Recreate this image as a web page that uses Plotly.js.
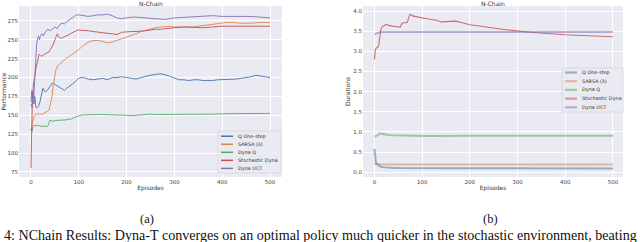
<!DOCTYPE html>
<html>
<head>
<meta charset="utf-8">
<script src="https://cdn.plot.ly/plotly-3.0.1.min.js"></script>
<style>
html,body{margin:0;padding:0;background:#fff;}
#chart{width:640px;height:242px;}
</style>
</head>
<body>
<div id="chart"></div>
<script>
// ---------- DATA ----------
var seriesNames = ["Q One-step", "SARSA (λ)", "Dyna Q", "Stochastic Dyna", "Dyna UCT"];
var legendNamesB = ["Q One-step", "SARSA (λ)", "Dyna Q", "Stochastic Dyna", "Dyna UCT"];

// (a) Performance
var perfQX = [0,2,4,6,8,10,13,16,19,22,25,28,31,35,40,45,50,55,60,65,70,75,80,85,90,95,100,105,110,120,130,140,150,160,170,180,190,200,210,220,230,240,250,260,270,280,290,300,310,320,330,340,350,360,370,380,390,400,410,420,430,440,450,460,470,480,490,500];
var perfQY = [168,183,172,165,175,161,160,162,168,178,186,182,181,184,188,193,191,189,187,184,183,186,188,190,193,196,199,200,200,198,197,198,199,197,200,200,201,200,199,198,200,202,203,204,205,204,202,199,197,197,196,197,197,196,196,196,197,197,198,198,198,199,200,201,203,202,201,200];

var perfSarsaX = [0,2,5,8,11,14,18,22,26,30,34,38,41,44,46,48,50,52,55,60,65,70,75,80,85,90,95,100,105,110,115,120,130,140,150,160,170,180,190,200,210,220,230,240,250,260,270,280,290,300,310,320,340,350,360,370,380,390,400,410,420,440,460,480,500];
var perfSarsaY = [130,138,145,150,152,151,152,151,152,153,155,157,165,175,187,197,205,210,215,218,221,223,226,228,230,232,234,237,240,242,245,247,249,249,248,246,247,249,251,253,255,258,261,263,264,266,267,268,268,267,267,267,267,268,269,270,271,272,272,273,273,272,272,273,273];

var perfDynaQX = [0,2,4,7,10,14,18,22,26,30,34,37,39,42,46,50,55,60,65,70,75,80,85,90,95,100,105,110,120,130,140,150,160,170,180,190,200,210,220,230,240,250,260,280,300,320,340,360,380,400,420,440,460,480,500];
var perfDynaQY = [132,128,134,137,136,137,136,135,136,135,135,138,143,143,142,143,143,144,144,144,144,145,145,147,148,150,150,150.5,151,151,151,151,151,151,151,150,150,149.5,150,151,151,151.5,151,151,151,151,151,151,151.5,152,152,152,152,152.5,152.5];

var perfStochX = [0,1,2,3,5,7,9,11,13,15,17,20,23,26,30,34,38,42,46,50,53,55,58,62,66,70,75,80,85,90,95,100,110,120,130,140,150,160,170,180,190,200,210,220,230,240,250,260,270,280,290,300,320,340,360,380,400,420,440,460,480,500];
var perfStochY = [80,115,150,172,190,200,208,214,219,228,231,229,228,230,232,233,234,238,243,250,256,258,254,252,253,254,256,257,259,261,262,263,263,262,261,260,259,258,257,257,260,261,261,261,262,262,263,264,264,265,266,266,267,266,266,267,268,268,268,268,268,268];

var perfUctX = [0,2,4,6,8,10,12,14,16,18,20,23,26,30,35,40,45,50,55,60,65,70,75,80,85,90,95,100,110,120,130,140,150,160,170,180,190,200,210,220,240,260,280,300,320,340,360,380,400,420,440,460,480,500];
var perfUctY = [165,160,182,172,200,230,245,252,255,250,256,258,255,260,264,262,265,267,265,270,272,271,274,276,278,281,283,283,282,281,282,283,283,284,282,279,278,279,280,280,279,278,277,279,280,281,282,282,281,281,281,281,280,279];

// (b) Durations
var durQX = [0,1,2,3,5,8,12,18,25,35,50,75,100,150,200,300,400,500];
var durQY = [0.58,0.40,0.30,0.24,0.20,0.17,0.14,0.125,0.115,0.11,0.105,0.10,0.10,0.098,0.097,0.095,0.095,0.094];

var durSarsaX = [0,3,10,50,100,200,300,400,500];
var durSarsaY = [0.21,0.20,0.195,0.19,0.19,0.19,0.19,0.19,0.19];

var durDynaQX = [0,3,6,9,12,15,20,30,40,50,70,90,110,130,150,200,250,300,350,400,450,500];
var durDynaQY = [0.89,0.89,0.91,0.95,0.965,0.955,0.94,0.925,0.915,0.91,0.905,0.895,0.895,0.90,0.905,0.905,0.905,0.905,0.905,0.905,0.905,0.905];

var durStochX = [0,1,2,4,7,9,10,11,13,16,20,24,28,33,40,47,54,57,60,65,69,72,75,80,90,100,110,120,130,140,150,160,170,180,190,200,220,240,260,280,300,320,340,360,380,400,420,440,460,480,500];
var durStochY = [2.80,2.95,3.05,3.08,3.10,3.15,3.30,3.40,3.52,3.60,3.64,3.67,3.65,3.63,3.62,3.61,3.60,3.68,3.71,3.71,3.72,3.85,3.92,3.88,3.85,3.83,3.81,3.79,3.77,3.73,3.74,3.75,3.75,3.72,3.69,3.66,3.63,3.59,3.56,3.53,3.50,3.48,3.46,3.44,3.42,3.41,3.40,3.39,3.38,3.37,3.36];

var durUctX = [0,3,6,10,15,100,200,300,400,500];
var durUctY = [3.42,3.44,3.46,3.47,3.48,3.48,3.48,3.48,3.48,3.48];

var perfTicks = [75,100,125,150,175,200,225,250,275];
var durTicks = [0.0,0.5,1.0,1.5,2.0,2.5,3.0,3.5,4.0];
var durTickText = ["0.0","0.5","1.0","1.5","2.0","2.5","3.0","3.5","4.0"];
var epTicks = [0,100,200,300,400,500];

// ---------- STYLE ----------
var colors = ["#4C72B0", "#DD8452", "#55A868", "#C44E52", "#8172B3"];
var W = 640, H = 242;
function px(x){ return x / W; }
function py(y){ return 1 - y / H; }
var tickFont = {family: "DejaVu Sans", size: 5.5, color: "#444"};
var bg = "#EAEAF2";

var perfData = [[perfQX,perfQY],[perfSarsaX,perfSarsaY],[perfDynaQX,perfDynaQY],[perfStochX,perfStochY],[perfUctX,perfUctY]];
var durData = [[durQX,durQY],[durSarsaX,durSarsaY],[durDynaQX,durDynaQY],[durStochX,durStochY],[durUctX,durUctY]];

var traces = [];
perfData.forEach(function(d, i){
  traces.push({x: d[0], y: d[1], type: "scatter", mode: "lines", name: seriesNames[i],
    xaxis: "x", yaxis: "y", showlegend: false,
    line: {color: colors[i], width: 0.9}});
});
durData.forEach(function(d, i){
  var isTop = (i === 3);
  traces.push({x: d[0], y: d[1], type: "scatter", mode: "lines", name: legendNamesB[i],
    xaxis: "x2", yaxis: "y2", showlegend: false, opacity: isTop ? 0.8 : 0.55,
    line: {color: colors[i], width: isTop ? 1.1 : 2}});
});

var shapes = [], annotations = [];
function addLegend(names, box, lineX0, lineX1, textX, rowY, lw, op){
  shapes.push({type: "rect", xref: "paper", yref: "paper",
    x0: px(box[0]), x1: px(box[1]), y0: py(box[3]), y1: py(box[2]),
    fillcolor: "rgba(234,234,242,0.85)", line: {color: "#d4d4dc", width: 0.8}, layer: "above"});
  names.forEach(function(n, i){
    var y = rowY[0] + i * rowY[1];
    shapes.push({type: "line", xref: "paper", yref: "paper",
      x0: px(lineX0), x1: px(lineX1), y0: py(y), y1: py(y), opacity: op,
      line: {color: colors[i], width: lw}, layer: "above"});
    annotations.push({xref: "paper", yref: "paper", x: px(textX), y: py(y),
      xanchor: "left", yanchor: "middle", showarrow: false, text: n,
      font: {family: "DejaVu Sans", size: 4.9, color: "#333"}});
  });
}
addLegend(seriesNames, [218, 281, 131, 173], 221, 233, 236, [136.2, 8.05], 1.5, 1);
addLegend(legendNamesB, [562, 623, 68, 112], 565, 577, 580, [72.5, 8.7], 2.2, 0.5);

// subplot titles
annotations.push({xref: "paper", yref: "paper", x: px(150.5), y: py(3.2), xanchor: "center", yanchor: "middle",
  showarrow: false, text: "N-Chain", font: {family: "DejaVu Sans", size: 6, color: "#333"}});
annotations.push({xref: "paper", yref: "paper", x: px(493), y: py(3.2), xanchor: "center", yanchor: "middle",
  showarrow: false, text: "N-Chain", font: {family: "DejaVu Sans", size: 6, color: "#333"}});
// sub-captions
annotations.push({xref: "paper", yref: "paper", x: px(147), y: py(219), xanchor: "center", yanchor: "middle",
  showarrow: false, text: "(a)", font: {family: "Liberation Serif", size: 12.5, color: "#111"}});
annotations.push({xref: "paper", yref: "paper", x: px(490), y: py(219), xanchor: "center", yanchor: "middle",
  showarrow: false, text: "(b)", font: {family: "Liberation Serif", size: 12.5, color: "#111"}});
annotations.push({xref: "paper", yref: "paper", x: px(320), y: py(235), xanchor: "center", yanchor: "middle",
  showarrow: false, text: "4: NChain Results: Dyna-T converges on an optimal policy much quicker in the stochastic environment, beating",
  font: {family: "Liberation Serif", size: 14.1, color: "#111"}});

function axisBase(){
  return {showgrid: true, gridcolor: "#ffffff", gridwidth: 1, zeroline: false, showline: false,
    ticks: "", tickfont: tickFont, automargin: false};
}
var xa = axisBase(); xa.domain = [px(19), px(282)]; xa.range = [-25, 525]; xa.tickvals = epTicks; xa.anchor = "y";
xa.title = {text: "Episodes", font: {family: "DejaVu Sans", size: 6, color: "#333"}, standoff: 2};
var ya = axisBase(); ya.domain = [py(177), py(6)]; ya.range = [68.2, 294.8]; ya.tickvals = perfTicks; ya.anchor = "x";
ya.title = {text: "Performance", font: {family: "DejaVu Sans", size: 6, color: "#333"}, standoff: 2};
var xb = axisBase(); xb.domain = [px(363), px(623)]; xb.range = [-24, 521]; xb.tickvals = epTicks; xb.anchor = "y2";
xb.title = {text: "Episodes", font: {family: "DejaVu Sans", size: 6, color: "#333"}, standoff: 2};
var yb = axisBase(); yb.domain = [py(177), py(6)]; yb.range = [-0.12, 4.125]; yb.tickvals = durTicks; yb.ticktext = durTickText; yb.anchor = "x2";
yb.title = {text: "Durations", font: {family: "DejaVu Sans", size: 6, color: "#333"}, standoff: 2};

var layout = {
  width: W, height: H, margin: {l: 0, r: 0, t: 0, b: 0, pad: 0},
  paper_bgcolor: "#ffffff", plot_bgcolor: bg, showlegend: false,
  xaxis: xa, yaxis: ya, xaxis2: xb, yaxis2: yb,
  shapes: shapes, annotations: annotations
};
Plotly.newPlot("chart", traces, layout, {displayModeBar: false, staticPlot: true});
</script>
</body>
</html>
